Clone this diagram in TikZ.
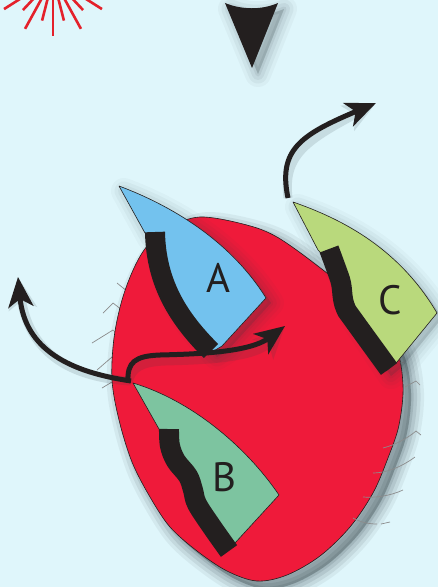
\documentclass[tikz,border=0pt]{standalone}
\usepackage{fontspec}
\newfontfamily\labelfont{PT Sans}
\usetikzlibrary{arrows.meta}

\definecolor{sky}{HTML}{DFF6FB}
\definecolor{heart}{HTML}{EF1A3A}
\definecolor{finA}{HTML}{73C2EE}
\definecolor{finB}{HTML}{7DC4A0}
\definecolor{finC}{HTML}{B9D97C}
\definecolor{ink}{HTML}{231F1F}
\definecolor{ray}{HTML}{E4212B}
\definecolor{hair}{HTML}{8C8C8C}
\definecolor{shadowcol}{HTML}{2E3E44}

% soft shadow: several offset copies of a path, widening and fading
\newcommand\softshadow[3]{% #1 shift, #2 base opacity, #3 path
  \foreach \w/\o in {26/0.5,19/0.7,12/0.85,5/1}{
    \path[fill=shadowcol, draw=shadowcol, line width=\w pt,
          opacity=#2*\o, line join=round, shift={#1}] #3;
  }}

\newcommand\blobpath{plot[smooth cycle, tension=0.55] coordinates {
  (200,217) (243,224) (277,237) (323,270) (365,305) (395,345) (403,385)
  (399,425) (388,458) (373,493) (350,527) (320,556) (287,575) (257,581)
  (227,571) (197,551) (170,527) (150,497) (132,462) (119,420) (112,380)
  (114,338) (122,300) (134,268) (148,245) (170,227)}}

\newcommand\finApath{(119,186) .. controls (170,205) and (230,240) .. (266,298)
  -- (222,346) -- (212,352) .. controls (180,320) and (157,290) .. (155,240)
  -- (145,233) -- cycle}
\newcommand\finBpath{(133,383) .. controls (190,400) and (245,445) .. (279,495)
  -- (235,543) -- (226,550) -- (193,495) -- (176,461) -- (169,440)
  -- (159,429) -- cycle}
\newcommand\finCpath{(293,202) .. controls (345,220) and (400,250) .. (437,313)
  -- (397,362) -- (386,371) -- (348,314) -- (343,299) -- (336,268)
  -- (318,250) -- cycle}

\tikzset{
  outline/.style={draw=ink, line width=0.6pt, line join=round},
  band/.style={draw=ink, line width=20pt, line cap=butt, line join=round},
  flow/.style={draw=ink, line width=5pt,
    -{Stealth[length=30pt, width=25pt, inset=8pt]}},
  flowshadow/.style={draw=shadowcol, line width=9pt, opacity=0.14,
    -{Stealth[length=32pt, width=28pt, inset=8pt]}},
  hairline/.style={draw=hair, line width=0.7pt, line join=round},
  fintext/.style={font=\labelfont\fontsize{41}{41}\selectfont, text=ink,
    inner sep=0pt},
  rayline/.style={draw=ray, line width=2.6pt},
}

\begin{document}
\begin{tikzpicture}[x=1pt, y=-1pt]
  \useasboundingbox (0,0) rectangle (438,587);
  \fill[sky] (0,0) rectangle (438,587);
  \clip (0,0) rectangle (438,587);

  % red burst in the corner
  \begin{scope}[shift={(53,-22)}]
    \foreach \k in {-4,...,4}{
      \pgfmathsetmacro\ang{90+14.4*\k}
      \pgfmathsetmacro\len{isodd(\k) ? 44 : 58}
      \draw[rayline] (\ang:18) -- (\ang:\len);
    }
  \end{scope}

  % wedge pointer at the top
  \softshadow{(6,6)}{0.08}{(225,3) .. controls (242,10) and (262,10) .. (278,3) -- (252,68) -- cycle}
  \fill[ink] (225,3) .. controls (242,10) and (262,10) .. (278,3) -- (252,68) -- cycle;

  % hairs on the left side
  \draw[hairline] (117,283) -- (128,292);
  \draw[hairline] (103,313) -- (113,303) -- (122,310);
  \draw[hairline] (92,343) -- (113,330) -- (117,334);
  \draw[hairline] (97,370) -- (112,357);
  \draw[hairline] (102,388) -- (112,382);

  % body shadow and body
  \softshadow{(8,8)}{0.13}{\blobpath}
  \path[fill=heart, outline] \blobpath;

  % hairs on the right side
  \draw[hairline] (400,363) -- (405,362);
  \draw[hairline] (405,387) -- (416,381) -- (420,385);
  \draw[hairline] (383,448) .. controls (395,445) and (408,438) .. (416,431) -- (421,435);
  \draw[hairline] (373,473) .. controls (385,473) and (400,468) .. (415,457);
  \draw[hairline] (363,497) .. controls (375,498) and (390,496) .. (403,490);
  \draw[hairline] (353,518) .. controls (360,522) and (368,524) .. (377,524);
  \draw[hairline] (381,524) -- (390,522);

  % fins
  \softshadow{(5,5)}{0.06}{\finApath}
  \softshadow{(5,5)}{0.06}{\finCpath}
  \path[fill=finA, outline] \finApath;
  \path[fill=finB, outline] \finBpath;
  \path[fill=finC, outline] \finCpath;

  % dark bands along the fins
  \draw[band] (155,232) .. controls (156,285) and (180,320) .. (211,351);
  \draw[band] plot[smooth, tension=0.6] coordinates {
    (169,429) (170,446) (176,461) (188,476) (193,490) (197,504) (212,527) (229,551)};
  \draw[band] plot[smooth, tension=0.6] coordinates {
    (329,249) (336,268) (341,283) (343,299) (346,309) (352,318) (389,369)};

  % flow arrows
  \coordinate (J) at (131,381);
  \coordinate (Jup) at (128,382);
  \coordinate (leftTip) at (18,277);
  \coordinate (midTip) at (285,326);
  \coordinate (topStart) at (288,198);
  \coordinate (topTip) at (376,103);

  \begin{scope}[shift={(5,6)}]
    \draw[flowshadow] (J) .. controls (70,372) and (25,350) .. (leftTip);
    \draw[flowshadow] (Jup) .. controls (127,362) and (135,356) .. (160,355)
      .. controls (200,354) and (250,352) .. (midTip);
    \draw[flowshadow] (topStart) .. controls (278,150) and (300,135) .. (topTip);
  \end{scope}

  \draw[flow] (J) .. controls (70,372) and (25,350) .. (leftTip);
  \draw[flow] (Jup) .. controls (127,362) and (135,356) .. (160,355)
    .. controls (200,354) and (250,352) .. (midTip);
  \draw[flow] (topStart) .. controls (278,150) and (300,135) .. (topTip);

  % fin labels
  \node[fintext] (labA) at (218,278) {A};
  \node[fintext] (labB) at (224,477) {B};
  \node[fintext] (labC) at (390,300) {C};
\end{tikzpicture}
\end{document}
